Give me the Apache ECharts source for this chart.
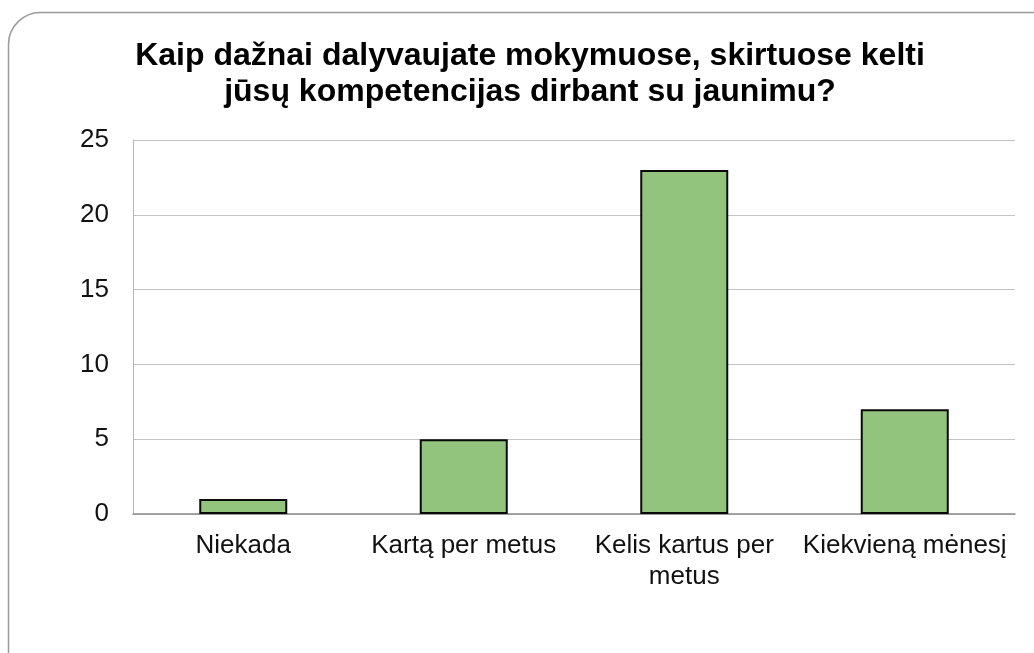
<!DOCTYPE html>
<html>
<head>
<meta charset="utf-8">
<script src="https://cdn.jsdelivr.net/npm/echarts@6/dist/echarts.min.js"></script>
<style>
html,body{margin:0;padding:0;background:#fff;}
#chart{width:1034px;height:653px;}
</style>
</head>
<body>
<div id="chart"></div>
<script>
var titleText = 'Kaip dažnai dalyvaujate mokymuose, skirtuose kelti\njūsų kompetencijas dirbant su jaunimu?';
var categories = ['Niekada', 'Kartą per metus', 'Kelis kartus per\nmetus', 'Kiekvieną mėnesį'];
var values = [1, 5, 23, 7];
var yTicks = { min: 0, max: 25, interval: 5 };

var chart = echarts.init(document.getElementById('chart'), null, { renderer: 'canvas' });
chart.setOption({
  backgroundColor: '#ffffff',
  animation: false,
  graphic: [{
    type: 'rect',
    silent: true,
    z: -10,
    shape: { x: 8.5, y: 12.5, width: 1100, height: 720, r: 32 },
    style: { fill: 'none', stroke: '#9a9a9a', lineWidth: 1.5 }
  }],
  title: {
    text: titleText,
    left: 525,
    top: 33,
    textAlign: 'center',
    textStyle: {
      fontFamily: 'Liberation Sans, Arial, sans-serif',
      fontSize: 32,
      fontWeight: 'bold',
      color: '#000',
      lineHeight: 36
    }
  },
  grid: { left: 133, right: 19, top: 140, bottom: 139, containLabel: false },
  xAxis: {
    type: 'category',
    data: categories,
    axisLine: { show: true, lineStyle: { color: '#8c8c8c', width: 1.5 } },
    axisTick: { show: false },
    axisLabel: {
      interval: 0,
      margin: 16,
      hideOverlap: false,
      fontFamily: 'Liberation Sans, Arial, sans-serif',
      fontSize: 26,
      lineHeight: 31,
      color: '#111'
    }
  },
  yAxis: {
    type: 'value',
    min: yTicks.min,
    max: yTicks.max,
    interval: yTicks.interval,
    axisLine: { show: true, lineStyle: { color: '#b8b8b8', width: 1 } },
    axisTick: { show: false },
    splitLine: { show: true, lineStyle: { color: '#c4c4c4', width: 1 } },
    axisLabel: {
      margin: 24,
      fontFamily: 'Liberation Sans, Arial, sans-serif',
      fontSize: 26,
      color: '#111'
    }
  },
  series: [{
    type: 'bar',
    data: values,
    barWidth: 88,
    itemStyle: { color: '#93c47d', borderColor: '#0a0a0a', borderWidth: 2 }
  }]
});
</script>
</body>
</html>
